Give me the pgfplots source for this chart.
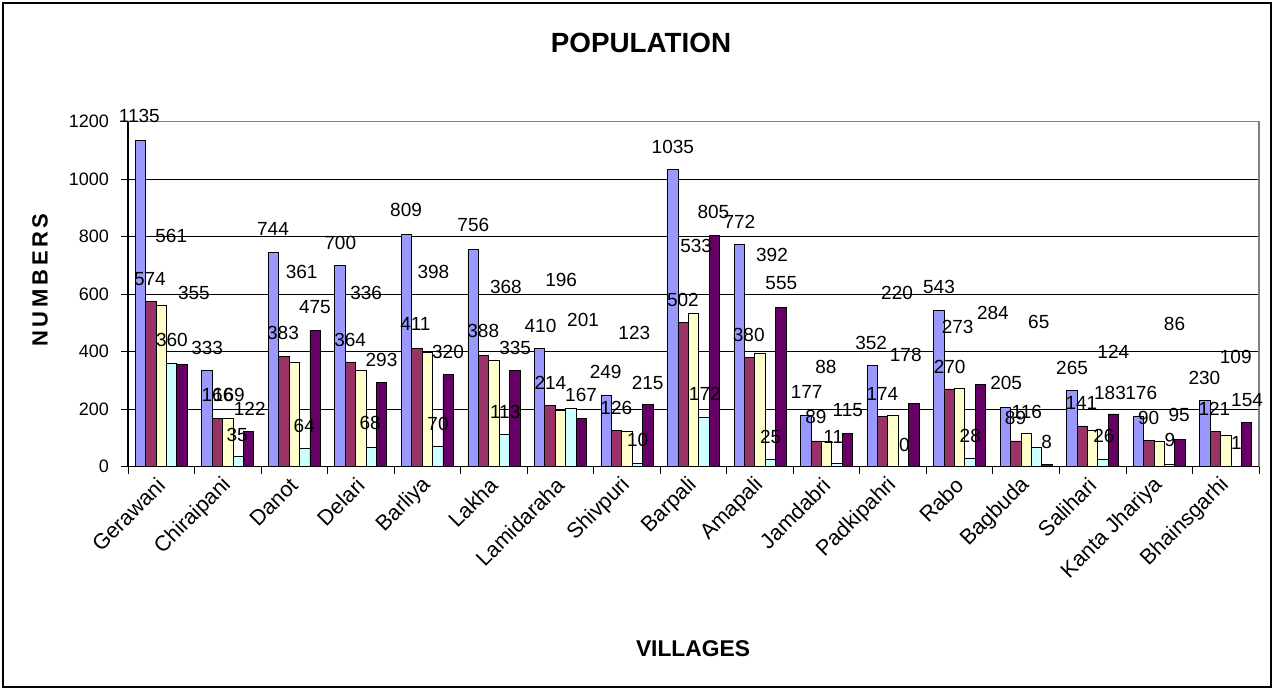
\documentclass[border=0pt]{standalone}
\usepackage{pgfplots}
\pgfplotsset{compat=1.18}
\usepackage{pgfplotstable}
\usepackage{fontspec}
\setmainfont{Liberation Sans}
\definecolor{sblue}{HTML}{9999FF}
\definecolor{smaroon}{HTML}{993366}
\definecolor{syellow}{HTML}{FFFFCC}
\definecolor{scyan}{HTML}{CCFFFF}
\definecolor{spurple}{HTML}{660066}
\pgfplotstableread{
x b m y c p
0 1135 574 561 360 355
1 333 166 169 35 122
2 744 383 361 64 475
3 700 364 336 68 293
4 809 411 398 70 320
5 756 388 368 113 335
6 410 214 196 201 167
7 249 126 123 10 215
8 1035 502 533 172 805
9 772 380 392 25 555
10 177 89 88 11 115
11 352 174 178 0 220
12 543 270 273 28 284
13 205 89 116 65 8
14 265 141 124 26 183
15 176 90 86 9 95
16 230 121 109 1 154
}\bars
\pgfplotstableread{
x y t
-0.33 1220 1135
-0.17 652 574
0.15 802 561
0.16 440 360
0.49 603 355
0.69 411 333
0.845 249 166
1.015 249 169
1.14 110 35
1.33 199 122
1.68 826 744
1.83 464 383
2.11 676 361
2.15 141 64
2.31 556 475
2.69 779 700
2.84 440 364
3.08 603 336
3.14 150 68
3.31 371 293
3.68 893 809
3.82 496 411
4.09 676 398
4.16 148 70
4.31 400 320
4.69 841 756
4.84 473 388
5.18 626 368
5.17 191 113
5.32 411 335
5.70 489 410
5.85 290 214
6.01 649 196
6.34 510 201
6.31 249 167
6.68 330 249
6.84 203 126
7.11 466 123
7.16 92 10
7.31 292 215
7.69 1112 1035
7.84 580 502
8.04 769 533
8.17 252 172
8.30 887 805
8.69 852 772
8.83 458 380
9.18 736 392
9.16 102 25
9.32 638 555
9.70 260 177
9.84 171 89
9.99 347 88
10.10 102 11
10.32 197 115
10.67 431 352
10.84 252 174
11.06 605 220
11.17 75 0
11.19 388 178
11.69 624 543
11.85 347 270
11.97 487 273
12.16 106 28
12.50 533 284
12.70 290 205
12.84 168 89
13.01 191 116
13.19 504 65
13.31 86 8
13.69 342 265
13.83 220 141
14.31 400 124
14.17 106 26
14.26 257 183
14.73 257 176
14.84 168 90
15.23 496 86
15.16 92 9
15.30 179 95
15.68 307 230
15.83 199 121
16.15 382 109
16.16 81 1
16.32 231 154
}\labels
\begin{document}
\begin{tikzpicture}[x=1pt,y=1pt]
\useasboundingbox (-64,-111.75) rectangle (573,233.25);
\draw[line width=1pt] (-62.5,-110.25) rectangle (571.5,231.75);
\begin{axis}[
  at={(0,0)}, anchor=south west, scale only axis,
  width=565.5pt, height=172.4pt,
  xmin=-0.5, xmax=16.5, ymin=0, ymax=1200,
  xtick={-0.5,0.5,...,16.5},
  x tick label as interval,
  xticklabels={Gerawani,Chiraipani,Danot,Delari,Barliya,Lakha,Lamidaraha,Shivpuri,Barpali,Amapali,Jamdabri,Padkipahri,Rabo,Bagbuda,Salihari,Kanta Jhariya,Bhainsgarhi,{}},
  ytick={0,200,...,1200},
  xtick pos=bottom, ytick pos=left,
  ymajorgrids, grid style={black, line width=0.4pt},
  axis line style={gray, line width=0.6pt},
  tick align=outside, major tick length=3.5pt,
  tick style={black, line width=0.4pt},
  xticklabel style={rotate=45, anchor=east, inner sep=0pt, font=\fontsize{10.8}{12}\selectfont},
  xticklabel shift=4pt,
  yticklabel style={font=\fontsize{9}{10}\selectfont, /pgf/number format/1000 sep={}},
  yticklabel shift=2.5pt,
  /pgf/number format/assume math mode=true,
  clip=false,
]
\draw[black, line width=0.6pt] (rel axis cs:0,1) -- (rel axis cs:0,0) -- (rel axis cs:1,0);
\addplot[ybar, bar width=5.2pt, bar shift=-10.4pt, fill=sblue, draw=black, line width=0.4pt] table[x=x,y=b]{\bars};
\addplot[ybar, bar width=5.2pt, bar shift=-5.2pt, fill=smaroon, draw=black, line width=0.4pt] table[x=x,y=m]{\bars};
\addplot[ybar, bar width=5.2pt, bar shift=0pt, fill=syellow, draw=black, line width=0.4pt] table[x=x,y=y]{\bars};
\addplot[ybar, bar width=5.2pt, bar shift=5.2pt, fill=scyan, draw=black, line width=0.4pt] table[x=x,y=c]{\bars};
\addplot[ybar, bar width=5.2pt, bar shift=10.4pt, fill=spurple, draw=black, line width=0.4pt] table[x=x,y=p]{\bars};
\addplot[draw=none, mark=none, nodes near coords, point meta=explicit symbolic,
  every node near coord/.append style={anchor=center, inner sep=0pt, font=\fontsize{9.5}{11}\selectfont}]
  table[x=x, y=y, meta=t]{\labels};
\end{axis}
\node[font=\bfseries\fontsize{13.9}{16}\selectfont] at (256.5,211.6) {POPULATION};
\node[font=\bfseries\fontsize{11}{13}\selectfont, rotate=90] at (-44,93.25) {N\,U\,M\,B\,E\,R\,S};
\node[font=\bfseries\fontsize{11.4}{13}\selectfont] at (282.5,-91.25) {VILLAGES};
\end{tikzpicture}
\end{document}
